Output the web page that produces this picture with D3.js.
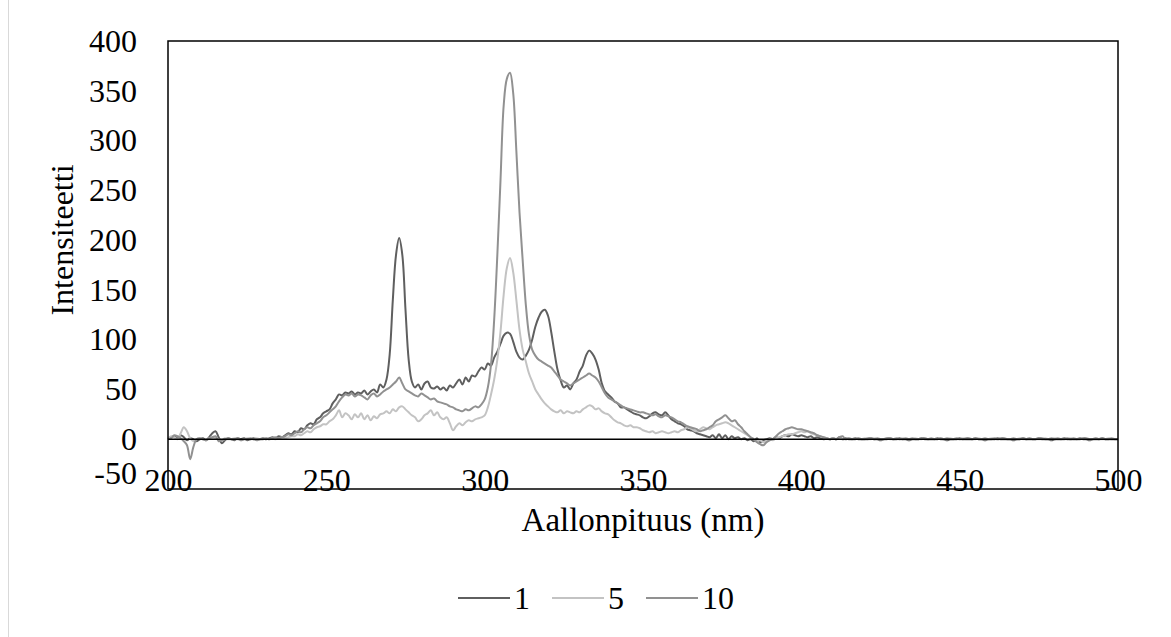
<!DOCTYPE html>
<html>
<head>
<meta charset="utf-8">
<script src="https://cdn.jsdelivr.net/npm/d3@7"></script>
<style>
  body { margin: 0; background: #ffffff; }
  svg { display: block; }
</style>
</head>
<body>
<div id="chart"></div>
<script>
// Spectre d'intensité (1 nm par point, 200 -> 500 nm)
const wavelengths = d3.range(200, 501);

const seriesNames = ['1', '5', '10'];

const values1 = [
  0, 2, 3, 1, 4, 2, -1, 1, 0, -2,
  0, 1, -1, 2, 6, 8, 2, -4, -1, 1,
  0, -1, 1, 0, 1, -1, 0, 1, 0, 0,
  1, 0, 1, 2, 1, 3, 2, 4, 6, 5,
  8, 7, 11, 10, 14, 16, 15, 20, 22, 26,
  28, 30, 36, 40, 45, 44, 47, 46, 48, 45,
  47, 46, 49, 45, 48, 50, 47, 55, 52, 60,
  85, 140, 185, 202, 185, 130, 80, 58, 52, 55,
  50, 56, 58, 52, 51, 53, 50, 52, 49, 54,
  52, 56, 60, 55, 62, 58, 64, 63, 68, 72,
  70, 76, 74, 82, 88, 96, 104, 107, 106, 98,
  88, 82, 80, 84, 90, 100, 113, 122, 128, 130,
  124, 108, 88, 70, 59, 52, 54, 50, 56, 60,
  68, 74, 84, 89, 86, 80, 70, 56, 48, 45,
  42, 38, 36, 32, 32, 30, 28, 26, 25, 24,
  22, 21, 23, 26, 27, 25, 24, 27, 24, 20,
  18, 16, 15, 13, 10, 9, 8, 6, 5, 4,
  3, 2, 4, 1, 5, 1, 4, 0, 3, 1,
  2, 0, 1, -1, 0, -2, 1, -3, -1, 0,
  1, 0, 2, 1, 3, 4, 3, 5, 4, 3,
  4, 3, 2, 3, 1, 2, 1, 0, 1, 0,
  1, 0, 2, 0, 1, 0, 0, 1, 0, 0,
  0, 0, 1, 0, 0, -1, 0, 0, 1, 0,
  0, 1, 0, 0, -1, 0, 0, 0, 1, 0,
  0, 0, 0, 1, 0, 0, -1, 0, 0, 0,
  1, 0, 0, 0, 0, 1, 0, 0, -1, 0,
  0, 0, 1, 0, 0, 0, 0, -1, 0, 0,
  1, 0, 0, 0, 0, 1, 0, 0, 0, -1,
  0, 0, 0, 1, 0, 0, 0, 0, 1, 0,
  0, -1, 0, 0, 0, 1, 0, 0, 0, 0, 0
];

const values5 = [
  1, 3, 2, 0, 6, 12, 8, 1, -2, 0,
  1, 0, -1, 1, 2, 1, 0, -1, 1, 0,
  0, 1, 0, -1, 0, 1, 0, 0, 1, 0,
  0, 1, 0, 1, 0, 1, 2, 1, 2, 3,
  3, 5, 4, 6, 8, 7, 10, 12, 13, 15,
  15, 18, 20, 24, 29, 22, 26, 24, 20, 25,
  22, 26, 20, 24, 19, 23, 21, 25, 26, 28,
  26, 30, 28, 32, 33, 30, 27, 24, 22, 18,
  20, 24, 26, 29, 24, 27, 22, 20, 22, 16,
  9, 13, 16, 14, 17, 19, 18, 20, 21, 22,
  24, 32, 45, 60, 80, 108, 145, 172, 182, 168,
  140, 110, 90, 78, 66, 58, 50, 45, 40, 36,
  33, 30, 28, 27, 29, 26, 28, 27, 26, 28,
  27, 30, 32, 34, 33, 30, 31, 28, 26, 25,
  22, 19, 17, 16, 14, 13, 14, 12, 12, 11,
  9, 8, 7, 8, 6, 7, 8, 7, 6, 7,
  8, 7, 9, 10, 12, 11, 9, 8, 10, 12,
  11, 10, 12, 14, 15, 16, 17, 16, 14, 12,
  10, 8, 6, 4, 2, 0, -2, -1, -3, -2,
  0, -1, 1, 2, 3, 4, 5, 5, 6, 7,
  8, 7, 8, 6, 5, 4, 3, 2, 1, 0,
  1, 0, 1, 0, 0, 1, 0, 0, 1, 0,
  1, 0, 0, 1, 0, 0, 0, 1, 0, 0,
  0, 0, 1, 0, 0, 0, 1, 0, 0, 1,
  0, 0, 0, 0, 1, 0, 0, 1, 0, 0,
  0, 1, 0, 0, 0, 0, 1, 0, 0, 0,
  1, 0, 0, 0, 1, 0, 0, 0, 0, 1,
  0, 0, 1, 0, 0, 0, 0, 1, 0, 0,
  1, 0, 0, 0, 0, 1, 0, 0, 0, 1,
  0, 0, 0, 1, 0, 0, 0, 1, 0, 0, 0
];

const values10 = [
  0, 1, 4, 3, 1, -2, -6, -20, -8, 0,
  1, 0, -1, 1, 2, 3, -2, -1, 0, 1,
  0, 0, 1, -1, 0, 0, 1, 0, -1, 0,
  0, 1, 0, 1, 2, 1, 2, 3, 5, 4,
  6, 8, 7, 10, 12, 11, 14, 16, 18, 22,
  24, 27, 30, 33, 38, 42, 45, 44, 46, 43,
  45, 44, 42, 40, 44, 46, 43, 45, 48, 50,
  52, 55, 58, 62, 56, 50, 48, 46, 44, 43,
  46, 44, 42, 40, 41, 38, 37, 36, 35, 33,
  32, 30, 29, 28, 30, 29, 31, 33, 32, 35,
  40, 52, 75, 120, 185, 260, 335, 362, 368, 348,
  290, 228, 180, 135, 105, 90, 84, 80, 78, 76,
  74, 72, 68, 64, 60, 58, 56, 54, 56, 58,
  60, 62, 64, 66, 64, 62, 58, 52, 46, 42,
  40, 38, 36, 34, 32, 31, 30, 29, 28, 27,
  27, 26, 25, 24, 25, 23, 22, 24, 23, 22,
  20, 18, 17, 15, 13, 12, 11, 10, 8, 9,
  10, 12, 14, 18, 20, 22, 24, 21, 18, 19,
  15, 12, 8, 5, 2, 0, -3, -5, -6, -3,
  -1, 0, 3, 6, 8, 10, 11, 12, 11, 10,
  10, 9, 8, 7, 6, 4, 3, 2, 1, 0,
  1, 0, 2, 3, 0, 1, 0, 0, 1, 0,
  0, 1, 1, 0, 1, 0, 0, 1, 1, 0,
  1, 0, 0, 1, 0, 1, 0, 0, 1, 1,
  0, 1, 0, 0, 1, 0, 1, 0, 0, 1,
  0, 0, 1, 1, 0, 1, 0, 0, 1, 0,
  0, 1, 0, 1, 1, 0, 0, 1, 0, 0,
  1, 0, 1, 0, 0, 1, 1, 0, 0, 1,
  0, 1, 0, 0, 1, 0, 1, 0, 0, 1,
  1, 0, 0, 1, 0, 1, 0, 0, 1, 0, 0
];

const xTicks = [200, 250, 300, 350, 400, 450, 500];
const yTicks = [-50, 0, 50, 100, 150, 200, 250, 300, 350, 400];

const colors = ['#5f5f5f', '#c3c3c3', '#919191'];

const width = 1171;
const height = 637;
const font = '"Liberation Serif", "Times New Roman", serif';

const svg = d3.select('#chart')
  .append('svg')
  .attr('width', width)
  .attr('height', height);

// fine bordure grise à gauche de la page
svg.append('line')
  .attr('x1', 8.5).attr('x2', 8.5)
  .attr('y1', 0).attr('y2', height)
  .attr('stroke', '#d9d9d9')
  .attr('stroke-width', 1);

const plot = { left: 168, top: 41, right: 1118, bottom: 489 };

const x = d3.scaleLinear().domain([200, 500]).range([plot.left, plot.right]);
const y = d3.scaleLinear().domain([-50, 400]).range([plot.bottom, plot.top]);

// Axe Y
const yAxis = svg.append('g')
  .attr('transform', `translate(${plot.left}, 0)`)
  .call(d3.axisLeft(y).tickValues(yTicks).tickFormat(d => String(d)).tickSize(0).tickPadding(31));
yAxis.select('.domain').remove();
yAxis.selectAll('text')
  .style('font-family', font)
  .style('font-size', '32px')
  .attr('fill', '#000')
  .attr('y', d => d === -50 ? -16 : 0);

// Axe X (étiquettes en bas du cadre)
const xAxis = svg.append('g')
  .attr('transform', `translate(0, ${plot.bottom})`)
  .call(d3.axisBottom(x).tickValues(xTicks).tickFormat(d => String(d)).tickSize(0));
xAxis.select('.domain').remove();
xAxis.selectAll('text')
  .style('font-family', font)
  .style('font-size', '32px')
  .attr('fill', '#000')
  .attr('y', -21);

// Courbes
const line = d3.line()
  .x((d, i) => x(wavelengths[i]))
  .y(d => y(d))
  .curve(d3.curveCatmullRom.alpha(0.5));

const allSeries = [values1, values5, values10];

svg.append('g')
  .selectAll('path')
  .data(allSeries)
  .enter()
  .append('path')
  .attr('d', line)
  .attr('fill', 'none')
  .attr('stroke', (d, i) => colors[i])
  .attr('stroke-width', 2)
  .attr('stroke-linejoin', 'round');

// ligne du zéro
svg.append('line')
  .attr('x1', plot.left).attr('x2', plot.right)
  .attr('y1', y(0)).attr('y2', y(0))
  .attr('stroke', '#000')
  .attr('stroke-width', 1.5);

// Cadre de la zone de tracé
svg.append('rect')
  .attr('x', plot.left)
  .attr('y', plot.top)
  .attr('width', plot.right - plot.left)
  .attr('height', plot.bottom - plot.top)
  .attr('fill', 'none')
  .attr('stroke', '#000')
  .attr('stroke-width', 1.5);

// Titres des axes
svg.append('text')
  .attr('x', (plot.left + plot.right) / 2)
  .attr('y', 531)
  .attr('text-anchor', 'middle')
  .style('font-family', font)
  .style('font-size', '33px')
  .text('Aallonpituus (nm)');

svg.append('text')
  .attr('transform', `translate(73, ${(plot.top + plot.bottom) / 2 - 25}) rotate(-90)`)
  .attr('text-anchor', 'middle')
  .style('font-family', font)
  .style('font-size', '32px')
  .text('Intensiteetti');

// Légende
const legend = svg.append('g');
let lx = 458;
seriesNames.forEach((name, i) => {
  legend.append('line')
    .attr('x1', lx).attr('x2', lx + 52)
    .attr('y1', 598).attr('y2', 598)
    .attr('stroke', colors[i])
    .attr('stroke-width', 2);
  const t = legend.append('text')
    .attr('x', lx + 56)
    .attr('y', 609)
    .style('font-family', font)
    .style('font-size', '32px')
    .text(name);
  lx += 56 + t.node().getComputedTextLength() + 22;
});
</script>
</body>
</html>
